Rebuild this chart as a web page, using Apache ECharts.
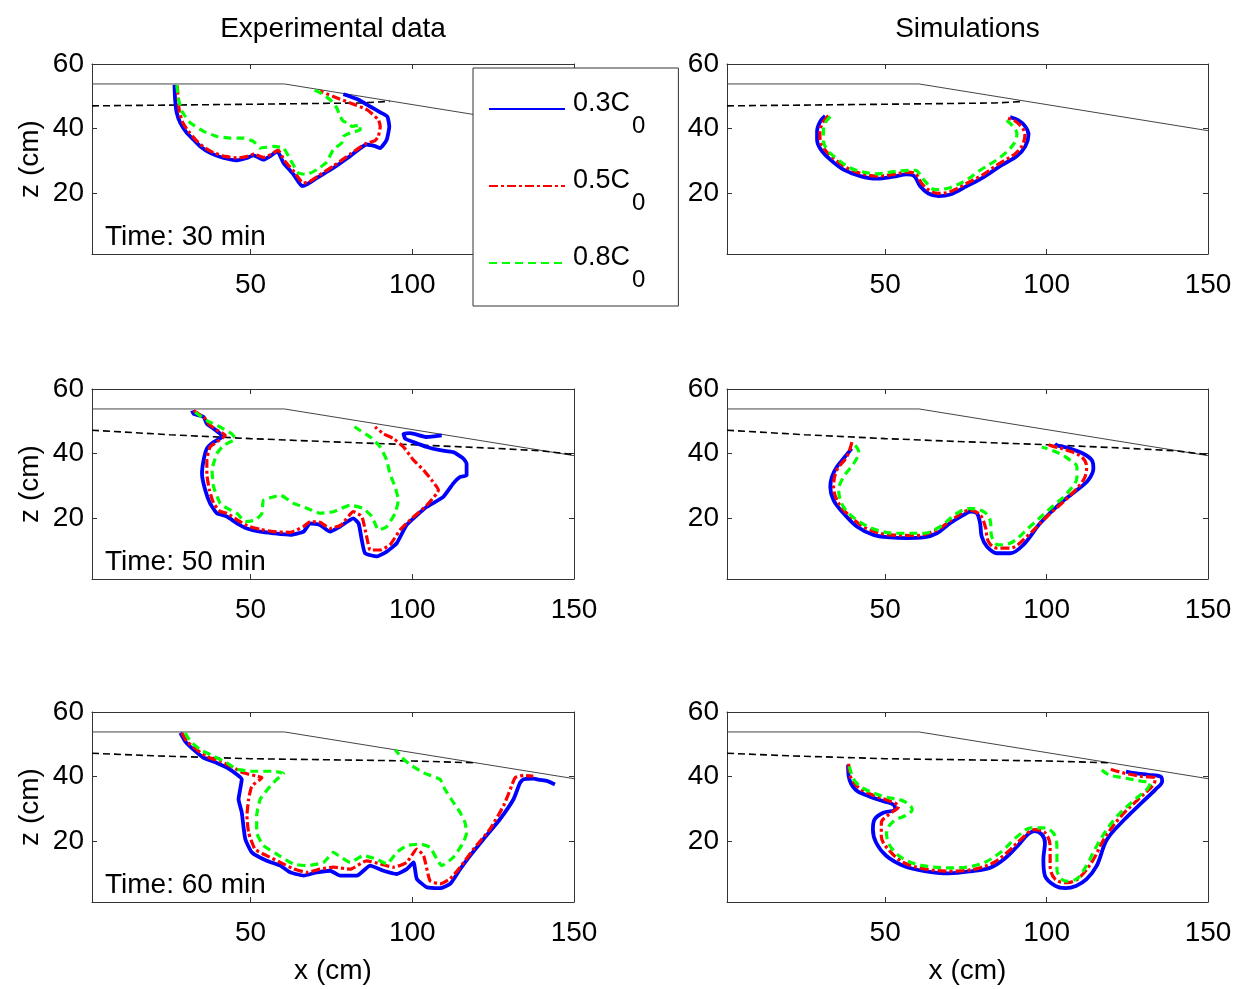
<!DOCTYPE html>
<html><head><meta charset="utf-8">
<script src="https://cdn.jsdelivr.net/npm/echarts@6/dist/echarts.min.js"></script>
<style>html,body{margin:0;padding:0;background:#fff}#c{width:1236px;height:989px}</style>
</head><body><div id="c"></div>
<script>
// ---- data ----
const xTicks = [50, 100, 150];
const zTicks = [20, 40, 60];
const xRange = [1, 150];
const zRange = [1, 60];
const colTitles = ['Experimental data', 'Simulations'];
const timeLabels = ['Time: 30 min', 'Time: 50 min', 'Time: 60 min'];
const legendNames = ['0.3C0', '0.5C0', '0.8C0'];

const surface = [[1,53.8],[60.5,53.8],[150,39.3]];
const water30 = [[1,47.0],[50,47.5],[84,47.9],[93,48.4]];
const water50 = [[1,47.2],[25,45.8],[50,44.6],[75,43.6],[100,42.7],[125,41.6],[140,40.8],[150,39.6]];
const water60 = [[1,47.2],[20,46.4],[50,45.5],[100,44.8],[120,44.2]];

const exp30_03 = [[26.5,53.5],[26.7,48.9],[27.2,44.8],[28.3,41.7],[30.3,38.6],[32.4,36.5],[34.5,34.4],[37.5,32.4],[41.7,30.8],[45.8,30.1],[48.9,30.8],[50.9,31.6],[54.0,30.3],[56.1,31.4],[58.3,32.9],[60.2,29.3],[63.3,25.7],[65.9,22.1],[67.4,22.6],[70.5,24.6],[75.6,27.7],[80.8,31.4],[85.9,35.0],[88.5,34.5],[90.1,33.9],[92.1,36.5],[92.9,40.6],[92.3,43.7],[90.1,45.0],[87.0,46.8],[83.4,48.9],[80.8,49.9],[78.7,50.6]];
const exp30_05 = [[27.4,53.3],[27.6,48.9],[28.1,44.8],[29.2,41.5],[31.2,38.6],[33.3,36.2],[35.5,34.2],[38.5,32.5],[42.2,31.3],[45.8,30.8],[49.0,31.3],[51.0,32.0],[54.0,31.0],[56.5,32.0],[58.5,33.3],[60.5,30.0],[63.5,26.5],[66.3,23.0],[68.0,23.3],[71.0,25.3],[75.6,28.3],[80.8,32.0],[85.5,35.2],[88.5,36.2],[89.5,37.5],[90.1,40.6],[89.5,42.7],[86.0,45.8],[80.8,47.9],[75.6,49.9],[71.5,51.6]];
const exp30_08 = [[27.2,53.5],[27.8,48.9],[28.8,45.3],[31.4,41.7],[35.5,39.1],[39.6,37.5],[43.7,37.0],[47.8,37.0],[50.9,36.0],[53.0,33.9],[57.1,34.4],[60.2,33.9],[62.3,30.3],[64.8,26.2],[67.4,25.7],[70.5,27.2],[73.5,29.5],[75.6,33.4],[78.2,35.5],[78.7,37.5],[80.8,38.6],[83.9,39.6],[83.9,41.1],[81.3,40.6],[80.3,41.7],[78.7,42.2],[77.7,43.7],[76.7,46.3],[74.6,48.9],[71.5,51.1],[68.5,52.4]];

const sim30_03 = [[31.4,43.9],[29.9,42.2],[28.9,39.1],[28.9,36.5],[30.1,33.4],[33.0,30.3],[37.1,27.2],[42.3,25.2],[47.4,24.4],[52.6,25.0],[56.7,25.7],[59.0,25.2],[60.8,22.1],[63.4,19.8],[66.5,19.0],[70.1,19.5],[75.3,22.1],[80.5,24.9],[85.6,28.3],[90.8,31.4],[93.4,34.4],[94.4,38.1],[93.4,40.6],[91.3,42.5],[88.7,43.5]];
const sim30_05 = [[32.4,44.0],[30.8,42.0],[29.8,39.0],[29.8,36.5],[31.0,33.8],[33.8,30.9],[37.7,28.0],[42.6,26.0],[47.4,25.2],[52.6,25.7],[56.5,26.4],[59.3,26.0],[61.4,22.8],[63.9,20.6],[66.6,19.8],[70.0,20.3],[75.0,22.8],[80.2,25.6],[85.2,29.0],[90.1,32.0],[92.5,34.8],[93.3,38.2],[92.3,40.4],[90.2,42.3],[87.7,43.3]];
const sim30_08 = [[33.0,43.7],[31.6,42.0],[30.9,39.6],[30.9,36.0],[32.2,33.2],[34.5,31.0],[39.2,27.7],[43.5,26.4],[47.4,25.9],[51.5,26.4],[55.7,26.9],[59.3,27.0],[61.9,24.1],[65.5,21.0],[70.1,21.6],[75.3,24.1],[79.4,27.0],[85.6,31.0],[89.7,35.0],[90.8,38.3],[89.2,41.1],[86.6,43.2]];

const exp50_03 = [[31.9,53.3],[32.4,52.3],[35.5,51.3],[36.5,49.2],[38.6,47.7],[40.6,46.1],[41.2,45.1],[38.6,43.5],[36.5,41.5],[35.5,37.9],[35.0,33.7],[36.0,28.6],[37.5,24.5],[39.6,21.4],[42.7,20.4],[45.8,18.3],[48.9,16.7],[53.0,15.7],[57.1,15.2],[62.3,14.7],[66.4,15.7],[68.4,18.3],[71.5,17.8],[74.6,15.7],[77.7,17.3],[81.8,19.8],[83.4,18.3],[84.4,13.1],[85.4,9.0],[89.0,8.0],[92.1,9.5],[95.2,12.1],[98.3,17.8],[104.5,23.4],[109.6,26.5],[112.7,30.7],[114.8,32.7],[116.8,33.2],[116.8,36.8],[115.8,38.4],[112.7,40.4],[108.6,41.0],[104.5,42.0],[100.4,43.5],[97.8,44.6],[97.3,46.1],[99.3,46.3],[104.5,45.1],[109.1,45.6]];
const exp50_05 = [[32.4,53.3],[35.8,51.0],[37.2,49.0],[39.5,47.3],[42.2,45.6],[39.5,43.5],[37.5,42.0],[36.5,38.0],[36.5,33.7],[37.3,28.6],[38.6,24.5],[40.6,22.0],[42.7,21.4],[46.0,19.3],[49.0,17.5],[53.0,16.4],[57.1,15.7],[62.3,15.5],[66.4,17.3],[68.4,18.8],[71.5,18.6],[74.6,16.7],[78.0,17.8],[81.8,21.9],[84.4,20.4],[85.9,14.2],[87.0,10.0],[90.1,10.0],[93.1,11.6],[96.2,16.2],[99.3,19.3],[104.5,23.9],[107.6,27.6],[108.1,28.6],[106.0,31.7],[103.5,34.8],[100.4,37.9],[97.3,42.0],[94.2,44.6],[91.1,46.1],[88.5,48.2]];
const exp50_08 = [[32.9,52.8],[36.5,50.2],[40.6,48.2],[44.2,46.1],[45.3,44.6],[41.7,42.5],[39.6,39.9],[38.1,34.8],[38.6,29.6],[40.6,24.5],[42.7,23.0],[45.8,21.4],[48.4,18.8],[51.5,19.3],[53.5,21.4],[54.0,25.5],[57.1,26.5],[59.2,27.0],[63.3,24.5],[67.4,23.0],[71.5,21.4],[75.6,21.9],[80.8,23.9],[84.9,22.9],[87.5,20.4],[89.6,16.2],[92.1,17.3],[94.7,21.4],[95.7,25.5],[94.7,29.6],[93.1,33.7],[92.1,37.9],[90.1,42.0],[87.0,45.1],[83.9,47.1],[80.8,49.2]];

const sim50_03 = [[39.6,41.5],[37.1,38.4],[35.0,35.8],[33.5,32.7],[33.0,29.6],[34.0,25.5],[37.1,21.4],[41.2,17.3],[46.4,14.7],[51.6,13.9],[56.7,13.7],[61.9,13.9],[66.0,15.2],[70.1,18.3],[74.3,20.9],[76.5,21.9],[78.4,21.4],[79.4,18.3],[79.9,14.2],[81.5,11.1],[84.6,9.0],[88.7,9.0],[92.8,11.6],[98.0,18.3],[104.2,24.5],[109.4,28.6],[112.9,31.7],[114.5,35.3],[114.0,37.9],[111.4,39.9],[107.3,41.5],[103.2,42.5],[102.6,43.0]];
const sim50_05 = [[39.7,43.5],[38.1,38.9],[35.0,34.8],[34.0,29.6],[35.6,24.5],[39.2,20.4],[44.3,16.7],[51.6,14.7],[59.8,14.5],[66.0,16.2],[71.2,19.8],[76.3,22.4],[79.4,20.9],[81.0,17.3],[82.0,12.6],[84.6,10.6],[88.7,10.6],[93.9,14.2],[100.1,20.4],[106.3,26.0],[111.4,31.7],[112.4,35.8],[110.9,38.9],[106.3,41.0],[101.1,42.5],[100.1,43.0]];
const sim50_08 = [[40.7,42.5],[41.8,40.4],[40.2,36.8],[37.1,32.7],[35.6,28.6],[37.1,23.4],[41.2,19.3],[47.4,16.2],[53.6,15.2],[61.9,15.2],[67.0,17.3],[72.2,21.4],[76.3,22.9],[80.5,21.9],[82.5,19.3],[83.0,14.2],[85.1,11.6],[88.7,12.1],[94.9,17.3],[101.1,22.9],[106.3,27.6],[109.4,32.7],[109.4,35.8],[107.3,37.9],[104.2,39.9],[100.1,41.5],[98.5,42.0]];

const exp60_03 = [[28.3,53.5],[29.8,50.9],[32.4,48.3],[35.5,45.8],[39.6,44.2],[42.7,42.7],[45.8,40.6],[47.3,39.1],[46.8,36.0],[46.3,32.9],[47.3,28.8],[47.8,24.6],[48.4,20.5],[50.4,16.4],[55.0,13.8],[59.2,12.3],[62.3,10.2],[66.4,9.2],[70.5,10.2],[74.6,10.7],[77.7,9.2],[82.9,9.2],[87.0,12.3],[91.1,10.7],[95.2,9.7],[98.3,11.2],[100.4,13.3],[101.4,8.2],[104.5,5.6],[108.6,5.3],[111.7,6.6],[114.8,11.2],[117.9,15.4],[122.0,20.5],[127.1,26.7],[131.3,32.9],[133.3,38.0],[134.4,39.1],[137.4,39.3],[139.5,38.9],[141.6,38.6],[144.1,37.5]];
const exp60_05 = [[28.8,53.5],[30.3,50.9],[33.4,48.3],[36.5,46.1],[40.6,44.7],[44.8,42.7],[47.8,41.1],[51.9,40.1],[53.5,39.6],[50.4,37.0],[49.4,32.9],[48.9,27.7],[49.4,22.6],[51.4,17.4],[55.0,15.4],[59.2,13.3],[63.3,11.3],[67.4,10.2],[71.5,11.2],[75.6,11.8],[80.8,11.2],[85.9,13.8],[90.1,12.8],[94.2,11.8],[98.3,13.3],[101.4,17.4],[103.5,15.4],[105.5,7.6],[108.6,6.6],[111.7,8.2],[114.8,11.8],[118.9,17.4],[124.0,23.6],[128.2,30.8],[130.7,37.0],[131.8,39.6],[134.4,40.3],[137.4,40.1]];
const exp60_08 = [[29.8,53.5],[31.4,50.9],[34.5,48.3],[38.6,46.3],[42.7,44.2],[45.8,42.2],[50.9,41.6],[57.1,41.6],[60.2,40.9],[58.1,39.1],[56.1,37.0],[53.0,32.9],[51.9,27.7],[51.9,22.6],[54.0,18.5],[58.1,15.9],[63.3,12.8],[67.4,12.3],[72.6,13.3],[75.6,16.4],[77.2,15.4],[80.8,13.3],[84.9,15.4],[89.0,14.3],[92.1,12.8],[95.2,16.4],[98.3,18.5],[102.4,19.0],[105.5,18.0],[107.6,14.3],[109.1,12.3],[112.7,14.9],[115.8,19.5],[116.8,22.6],[116.3,25.7],[114.8,28.8],[112.7,31.9],[110.1,36.0],[108.6,39.1],[103.5,41.1],[99.3,43.7],[96.8,45.8],[94.7,48.3]];

const sim60_03 = [[38.5,43.6],[38.7,40.0],[40.8,35.9],[45.1,33.8],[49.4,32.3],[52.6,31.2],[53.1,29.7],[49.4,28.7],[46.7,26.6],[46.2,23.5],[47.2,19.4],[50.4,15.3],[55.8,12.2],[62.2,10.6],[69.6,9.9],[77.1,10.6],[82.4,11.6],[86.7,14.2],[91.0,18.4],[94.2,22.0],[96.3,23.0],[98.5,22.0],[99.5,19.4],[99.0,14.2],[99.5,9.1],[102.7,6.0],[105.9,5.3],[109.1,6.0],[112.3,8.0],[115.5,12.2],[118.7,20.4],[124.1,26.6],[129.4,31.8],[133.7,35.9],[135.8,38.5],[135.3,40.0],[131.5,40.5],[127.3,41.0],[124.6,41.5]];
const sim60_05 = [[38.7,43.9],[39.2,40.0],[41.9,36.4],[47.2,33.8],[51.5,32.3],[54.2,30.7],[51.0,28.1],[48.8,25.6],[48.8,21.4],[51.0,17.3],[55.8,13.2],[63.3,11.1],[70.7,10.6],[78.2,11.3],[83.5,13.2],[87.7,16.3],[92.0,20.4],[96.3,23.5],[99.5,22.5],[101.1,18.4],[101.1,12.2],[102.7,8.0],[106.5,7.0],[110.2,8.6],[114.5,14.2],[117.7,20.4],[123.0,27.6],[128.3,32.8],[133.1,37.4],[133.7,39.5],[129.4,40.0],[124.1,41.0],[120.3,42.1],[119.3,42.6]];
const sim60_08 = [[38.9,43.1],[40.3,39.0],[43.0,36.4],[49.4,33.8],[55.8,32.3],[58.4,29.7],[56.8,28.1],[52.6,26.1],[50.4,22.5],[51.5,18.4],[55.8,14.3],[62.2,12.2],[70.7,11.6],[79.3,12.7],[85.6,16.3],[91.0,21.4],[95.2,24.0],[99.5,24.0],[102.7,21.4],[103.2,17.3],[103.2,11.1],[105.9,7.5],[109.1,8.0],[112.3,12.2],[115.5,18.4],[120.9,26.6],[127.3,32.8],[131.0,35.9],[132.1,37.9],[129.4,38.5],[124.1,39.5],[119.3,40.5],[117.1,42.0]];

// ---- layout / style ----
const FONT = "'Liberation Sans', Arial, Helvetica, sans-serif";
const gridLeft = [92, 727];
const gridWidth = [482, 481];
const gridTop = [64, 389, 712];
const gridHeight = 190;
const contourStyles = [
  {color:'#0000ff', width:3.8, type:'solid'},
  {color:'#ff0000', width:3.2, type:[9,3,3,3]},
  {color:'#00ff00', width:3.2, type:[8,5]}
];
const panels = [
  {row:0,col:0,water:water30,curves:[exp30_03,exp30_05,exp30_08],sim:false},
  {row:0,col:1,water:water30,curves:[sim30_03,sim30_05,sim30_08],sim:true},
  {row:1,col:0,water:water50,curves:[exp50_03,exp50_05,exp50_08],sim:false},
  {row:1,col:1,water:water50,curves:[sim50_03,sim50_05,sim50_08],sim:true},
  {row:2,col:0,water:water60,curves:[exp60_03,exp60_05,exp60_08],sim:false},
  {row:2,col:1,water:water60,curves:[sim60_03,sim60_05,sim60_08],sim:true}
];

const grid = [], xAxis = [], yAxis = [], series = [];
const axisLineStyle = {color:'#333', width:1};
panels.forEach((p, i) => {
  grid.push({left:gridLeft[p.col], top:gridTop[p.row], width:gridWidth[p.col], height:gridHeight, containLabel:false});
  const xb = xAxis.length;
  xAxis.push({
    type:'value', gridIndex:i, position:'bottom', min:xRange[0], max:xRange[1],
    axisLine:{show:true, onZero:false, lineStyle:axisLineStyle},
    axisTick:{show:true, inside:true, length:5, customValues:xTicks, lineStyle:axisLineStyle},
    axisLabel:{show:true, customValues:xTicks, fontSize:28, color:'#000', fontFamily:FONT, margin:17},
    splitLine:{show:false},
    name: p.row === 2 ? 'x (cm)' : '', nameLocation:'middle', nameGap:55,
    nameTextStyle:{fontSize:28, color:'#000', fontFamily:FONT}
  });
  xAxis.push({
    type:'value', gridIndex:i, position:'top', min:xRange[0], max:xRange[1],
    axisLine:{show:true, onZero:false, lineStyle:axisLineStyle},
    axisTick:{show:true, inside:true, length:5, customValues:xTicks, lineStyle:axisLineStyle},
    axisLabel:{show:false}, splitLine:{show:false}
  });
  const yb = yAxis.length;
  yAxis.push({
    type:'value', gridIndex:i, position:'left', min:zRange[0], max:zRange[1],
    axisLine:{show:true, onZero:false, lineStyle:axisLineStyle},
    axisTick:{show:true, inside:true, length:5, customValues:zTicks, lineStyle:axisLineStyle},
    axisLabel:{show:true, customValues:zTicks, fontSize:28, color:'#000', fontFamily:FONT, margin:8,
      padding:[8,0,0,0]},
    splitLine:{show:false},
    name: p.col === 0 ? 'z (cm)' : '', nameLocation:'middle', nameGap:48,
    nameTextStyle:{fontSize:28, color:'#000', fontFamily:FONT}
  });
  yAxis.push({
    type:'value', gridIndex:i, position:'right', min:zRange[0], max:zRange[1],
    axisLine:{show:true, onZero:false, lineStyle:axisLineStyle},
    axisTick:{show:true, inside:true, length:5, customValues:zTicks, lineStyle:axisLineStyle},
    axisLabel:{show:false}, splitLine:{show:false}
  });
  series.push({type:'line', name:'surface', xAxisIndex:xb, yAxisIndex:yb, data:surface,
    symbol:'none', lineStyle:{color:'#444', width:1}, silent:true});
  series.push({type:'line', name:'water', xAxisIndex:xb, yAxisIndex:yb, data:p.water,
    symbol:'none', lineStyle:{color:'#000', width:1.6, type:[7,4]}, silent:true});
  p.curves.forEach((c, k) => {
    series.push({type:'line', name:legendNames[k], xAxisIndex:xb, yAxisIndex:yb, data:c,
      symbol:'none', smooth: p.sim ? 0.35 : 0.15,
      lineStyle:contourStyles[k], itemStyle:{color:contourStyles[k].color}});
  });
});

const graphic = [];
colTitles.forEach((t, c) => {
  graphic.push({type:'text', x: gridLeft[c] + gridWidth[c] / 2, y: 29,
    style:{text:t, font:'28px ' + FONT, fill:'#000', textAlign:'center', textVerticalAlign:'middle'}});
});
timeLabels.forEach((t, r) => {
  graphic.push({type:'text', x: 105, y: gridTop[r] + 173,
    style:{text:t, font:'28px ' + FONT, fill:'#000', textAlign:'left', textVerticalAlign:'middle'}});
});

const option = {
  animation:false,
  backgroundColor:'#fff',
  textStyle:{fontFamily:FONT},
  grid, xAxis, yAxis, series, graphic,
  legend:{
    data:legendNames, orient:'vertical', left:473, top:68,
    padding:[22, 33, 14, 15], itemWidth:76, itemHeight:4, itemGap:29,
    backgroundColor:'#fff', borderColor:'#333', borderWidth:1, borderRadius:0,
    selectedMode:false, z:20,
    itemStyle:{color:'rgba(0,0,0,0)', borderWidth:0},
    formatter: n => '{m|' + n.slice(0, 4) + '}{s|' + n.slice(4) + '}',
    textStyle:{color:'#000', fontFamily:FONT,
      rich:{
        m:{fontSize:27, fontFamily:FONT, color:'#000', lineHeight:38, verticalAlign:'top', padding:[0,0,0,3]},
        s:{fontSize:24, fontFamily:FONT, color:'#000', lineHeight:38, verticalAlign:'top', padding:[24,0,0,2]}
      }}
  }
};
const chart = echarts.init(document.getElementById('c'), null, {renderer:'canvas'});
chart.setOption(option);
</script></body></html>
